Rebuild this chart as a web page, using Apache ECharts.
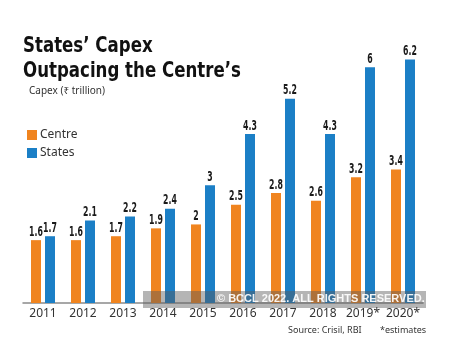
<!DOCTYPE html>
<html><head><meta charset="utf-8">
<script src="https://cdn.jsdelivr.net/npm/echarts@6/dist/echarts.min.js"></script>
<style>html,body{margin:0;padding:0;background:#fff}#c{width:474px;height:350px}</style>
</head><body><div id="c"></div>
<script>
const categories = ['2011','2012','2013','2014','2015','2016','2017','2018','2019*','2020*'];
const centre = [1.6,1.6,1.7,1.9,2,2.5,2.8,2.6,3.2,3.4];
const states = [1.7,2.1,2.2,2.4,3,4.3,5.2,4.3,6,6.2];
const seriesNames = ['Centre','States'];

const chart = echarts.init(document.getElementById('c'));
const condFont = '"DejaVu Sans Condensed", "DejaVu Sans", sans-serif';

function labelSeries(values, offset) {
  return {
    type:'custom', silent:true, z:5,
    data: values.map((v,i)=>[i,v]),
    renderItem: (params, api) => {
      const c = api.coord([api.value(0), api.value(1)]);
      return {type:'text', x:c[0]+offset, y:c[1]-1, scaleX:0.62,
        style:{text:String(api.value(1)), font:'bold 14px ' + condFont, fill:'#1a1a1a', textAlign:'center', textVerticalAlign:'bottom'}};
    }
  };
}

chart.setOption({
  animation:false,
  title:{text:'Capex (\u20b9 trillion)', left:24, top:81, textStyle:{fontFamily:'Noto Sans', fontWeight:'normal', fontSize:10, color:'#333'}},
  legend:{orient:'vertical', left:22, top:124, itemWidth:10, itemHeight:10, itemGap:6, icon:'rect',
    textStyle:{fontFamily:'Noto Sans', fontSize:12, color:'#333', padding:[0,0,0,-2]}, data:seriesNames},
  grid:{left:23, right:51, top:28, bottom:47, containLabel:false},
  xAxis:{type:'category', data:categories,
    axisLine:{lineStyle:{color:'#8a8a8a', width:1.5}}, axisTick:{show:false},
    axisLabel:{interval:0, color:'#333', fontFamily:'Noto Sans', fontSize:12, margin:5}},
  yAxis:{type:'value', min:0, max:7, show:false},
  series:[
    {name:seriesNames[0], type:'bar', data:centre, barWidth:10, barGap:'40%', itemStyle:{color:'#F0841F'}},
    {name:seriesNames[1], type:'bar', data:states, barWidth:10, itemStyle:{color:'#1B7FC6'}},
    labelSeries(centre, -7),
    labelSeries(states, 7)
  ],
  graphic:[
    {type:'text', x:23, y:35, scaleX:0.84, style:{text:'States\u2019 Capex', font:'bold 22px ' + condFont, fill:'#111', textVerticalAlign:'top'}},
    {type:'text', x:23, y:60, scaleX:0.84, style:{text:'Outpacing the Centre\u2019s', font:'bold 22px ' + condFont, fill:'#111', textVerticalAlign:'top'}},
    {type:'rect', shape:{x:143, y:291, width:283, height:17}, style:{fill:'rgba(90,90,90,0.45)'}, z:100},
    {type:'text', x:217, y:293, style:{text:'\u00a9 BCCL 2022. ALL RIGHTS RESERVED.', fill:'rgba(255,255,255,0.92)', font:'bold 11px "Liberation Sans"'}, z:101},
    {type:'text', x:288, y:326, style:{text:'Source: Crisil, RBI', fill:'#333', font:'9px "Noto Sans"'}},
    {type:'text', x:380, y:326, style:{text:'*estimates', fill:'#333', font:'9px "Noto Sans"'}}
  ]
});
</script></body></html>
